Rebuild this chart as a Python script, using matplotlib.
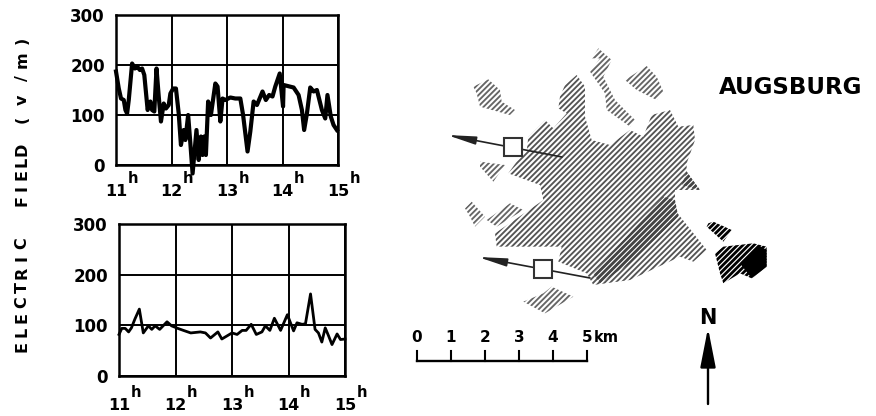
"""Electric field records at two sites and a hatched sketch map of Augsburg."""
import numpy as np
import matplotlib
matplotlib.use('Agg')
import matplotlib.pyplot as plt
from matplotlib.collections import LineCollection
from matplotlib.patches import Polygon, Rectangle

plt.rcParams['font.family'] = ['DejaVu Sans']
plt.rcParams['font.weight'] = 'bold'

# dados dos dois registros
hours_top = [11.00, 11.05, 11.09, 11.14, 11.17, 11.20, 11.23, 11.29, 11.34, 11.38, 11.43, 11.47, 11.51,
             11.57, 11.62, 11.65, 11.69, 11.73, 11.77, 11.81, 11.86, 11.90, 11.95, 11.98, 12.03, 12.08,
             12.13, 12.17, 12.22, 12.25, 12.30, 12.34, 12.38, 12.45, 12.49, 12.53, 12.56, 12.59, 12.62,
             12.66, 12.71, 12.79, 12.83, 12.88, 12.92, 12.97, 13.06, 13.15, 13.24, 13.29, 13.37, 13.42,
             13.48, 13.54, 13.64, 13.70, 13.76, 13.82, 13.87, 13.95, 14.01, 14.02, 14.20, 14.29, 14.35,
             14.39, 14.44, 14.50, 14.56, 14.62, 14.71, 14.77, 14.81, 14.87, 14.92, 14.98]
field_top = [187, 153, 133, 130, 110, 103, 130, 203, 193, 197, 190, 193, 180,
             110, 127, 110, 107, 193, 137, 87, 123, 113, 120, 143, 153, 153,
             103, 40, 70, 50, 100, 43, -17, 70, 10, 57, 20, 57, 20,
             127, 100, 163, 157, 87, 133, 130, 135, 133, 133, 100, 27, 67,
             127, 120, 147, 130, 140, 137, 157, 183, 117, 160, 155, 140, 110,
             70, 103, 155, 147, 150, 110, 93, 140, 97, 80, 70]
hours_bottom = [11.00, 11.05, 11.11, 11.17, 11.22, 11.28, 11.36, 11.43, 11.52, 11.58, 11.64, 11.72, 11.85,
                11.93, 12.04, 12.14, 12.27, 12.44, 12.53, 12.62, 12.75, 12.82, 12.91, 13.00, 13.09, 13.18,
                13.25, 13.34, 13.43, 13.53, 13.59, 13.67, 13.75, 13.86, 13.98, 14.09, 14.15, 14.24, 14.30,
                14.39, 14.47, 14.53, 14.59, 14.65, 14.71, 14.77, 14.86, 14.92, 15.00]
field_bottom = [82, 94, 94, 87, 95, 112, 132, 85, 99, 92, 99, 92, 107,
                99, 94, 90, 85, 87, 85, 75, 87, 73, 79, 85, 82, 90,
                90, 102, 82, 87, 99, 90, 114, 90, 121, 89, 105, 102, 103,
                162, 92, 85, 67, 95, 79, 62, 83, 72, 73]
hour_ticks = [11, 12, 13, 14, 15]
hour_labels = ['11', '12', '13', '14', '15']
field_ticks = [0, 100, 200, 300]
scale_ticks = [0, 1, 2, 3, 4, 5]

# contornos do mapa, em pixels da imagem ampliada 3x a partir de (430, 30)
city_main = [(295, 320), (345, 270), (370, 295), (410, 250), (385, 235), (390, 200), (405, 165), (440, 135),
             (465, 170), (465, 260), (485, 330), (540, 345), (600, 300), (640, 320), (665, 255), (720, 240),
             (745, 290), (790, 285), (795, 330), (770, 400), (770, 425), (810, 480), (735, 480), (735, 540),
             (830, 660), (790, 695), (750, 680), (600, 750), (490, 765), (470, 730), (385, 695), (395, 650),
             (200, 650), (195, 610), (290, 545), (340, 510), (330, 465), (235, 430), (260, 395), (290, 365)]
city_parts = [[(130, 170), (175, 148), (210, 180), (215, 215), (255, 240), (240, 255), (150, 230), (140, 190)],
              [(505, 55), (545, 90), (520, 140), (555, 210), (615, 270), (600, 290), (530, 240), (525, 190),
               (480, 125), (510, 85), (485, 85)],
              [(585, 150), (650, 108), (680, 140), (700, 185), (680, 210), (620, 180)],
              [(150, 395), (225, 405), (190, 455), (150, 410)],
              [(105, 535), (125, 515), (165, 560), (135, 590), (120, 560)],
              [(170, 570), (240, 520), (280, 540), (200, 590)],
              [(280, 815), (340, 790), (365, 770), (430, 800), (345, 850)]]
dense_parts = [[(490, 730), (700, 500), (735, 510), (745, 560), (600, 700), (510, 760)],
               [(770, 425), (810, 480), (755, 465)]]
black_parts = [[(835, 580), (850, 575), (905, 600), (880, 635), (830, 590)],
               [(855, 670), (880, 650), (970, 640), (1010, 650), (1010, 710), (965, 745), (930, 730),
                (880, 760), (870, 730)]]
black_core = [(930, 700), (985, 645), (1010, 660), (1010, 710), (965, 745)]


def to_px(points):
    arr = np.array(points, dtype=float)
    return np.column_stack((430 + arr[:, 0] / 3, 30 + arr[:, 1] / 3))


def hatch_polygon(ax, points, color, width, spacing=5.6, shift=0.0):
    """Desenha linhas diagonais recortadas pelo contorno."""
    poly = Polygon(to_px(points), closed=True, facecolor='none', edgecolor='none')
    ax.add_patch(poly)
    offsets = np.arange(400 + shift, 1400, spacing)
    segs = [[(c, 0), (c - 416, 416)] for c in offsets]
    lines = LineCollection(segs, colors=color, linewidths=width)
    ax.add_collection(lines)
    lines.set_clip_path(poly)


def field_panel(fig, left, right, top, bottom, hours, field, lw, num_pad, h_drop):
    ax = fig.add_axes([left / 876, 1 - bottom / 416, (right - left) / 876, (bottom - top) / 416])
    ax.plot(hours, field, color='black', lw=lw, solid_joinstyle='round', clip_on=False, zorder=3)
    ax.set_xlim(11, 15)
    ax.set_ylim(0, 300)
    ax.set_xticks(hour_ticks)
    ax.set_xticklabels(hour_labels, fontsize=11.5)
    ax.set_yticks(field_ticks)
    ax.set_yticklabels([str(v) for v in field_ticks], fontsize=12)
    ax.tick_params(axis='y', length=0, pad=8)
    ax.tick_params(axis='x', length=0, pad=num_pad)
    ax.grid(color='black', lw=1.4)
    ax.set_axisbelow(True)
    for spine in ax.spines.values():
        spine.set_linewidth(1.8)
    # o "h" em expoente fica ao lado do numero
    for hour in hour_ticks:
        ax.annotate('h', xy=(hour, 0), xytext=(12, -h_drop), textcoords='offset points',
                    ha='center', va='center', fontsize=10.5, annotation_clip=False)
    return ax


fig = plt.figure(figsize=(8.76, 4.16), dpi=100)
field_panel(fig, 116, 338, 15, 165, hours_top, field_top, 3.0, 14, 10)
field_panel(fig, 119, 345, 224, 376, hours_bottom, field_bottom, 2.0, 16, 12)

# camada em pixels para o mapa
ax_map = fig.add_axes([0, 0, 1, 1], zorder=5)
ax_map.set_xlim(0, 876)
ax_map.set_ylim(416, 0)
ax_map.axis('off')
ax_map.patch.set_alpha(0)

# rotulo vertical com letras espacadas
for word, start, pitch in [('ELECTRIC', 347, -14.8), ('FIELD', 201, -13.0)]:
    for i, letter in enumerate(word):
        ax_map.text(22, start + i * pitch, letter, rotation=90, ha='center', va='center', fontsize=11.5)
for letter, y_pos in [('(', 119), ('v', 100), ('/', 78), ('m', 60), (')', 40)]:
    ax_map.text(22, y_pos, letter, rotation=90, ha='center', va='center', fontsize=11.5)

hatch_polygon(ax_map, city_main, '#555555', 1.35)
for part in city_parts:
    hatch_polygon(ax_map, part, '#666666', 1.35)
for part in dense_parts:
    hatch_polygon(ax_map, part, '#444444', 2.0)
for part in black_parts:
    hatch_polygon(ax_map, part, 'black', 2.0)
hatch_polygon(ax_map, black_core, 'black', 2.2, shift=2.8)

# setas e quadrados de medida
for tail, tip, box in [((562, 157), (447, 135), (513, 147)), ((590, 278), (478, 257), (543, 269))]:
    ax_map.annotate('', xy=tip, xytext=tail,
                    arrowprops=dict(arrowstyle='-|>,head_length=1.7,head_width=0.24', color='#222222', lw=1.2,
                                    shrinkA=0, shrinkB=0, mutation_scale=10))
    ax_map.add_patch(Rectangle((box[0] - 9, box[1] - 9), 18, 18, facecolor='white', edgecolor='#333333',
                               lw=1.5, zorder=4))

ax_map.text(791, 87, 'AUGSBURG', ha='center', va='center', fontsize=16.5, fontweight='bold')

# escala
bar_x = [417 + 34 * v for v in scale_ticks]
ax_map.plot([bar_x[0], bar_x[-1]], [361, 361], color='black', lw=1.7)
for x_pos, v in zip(bar_x, scale_ticks):
    ax_map.plot([x_pos, x_pos], [351, 361], color='black', lw=1.5)
    ax_map.text(x_pos, 338, str(v), ha='center', va='center', fontsize=11)
ax_map.text(606, 338, 'km', ha='center', va='center', fontsize=10.5)

# norte
ax_map.text(708, 318, 'N', ha='center', va='center', fontsize=15, fontweight='bold')
ax_map.annotate('', xy=(708, 328), xytext=(708, 404),
                arrowprops=dict(arrowstyle='-|>,head_length=2.4,head_width=0.47', color='black', lw=1.7,
                                shrinkA=0, shrinkB=0, mutation_scale=10))

fig.savefig('out.png', dpi=100)
